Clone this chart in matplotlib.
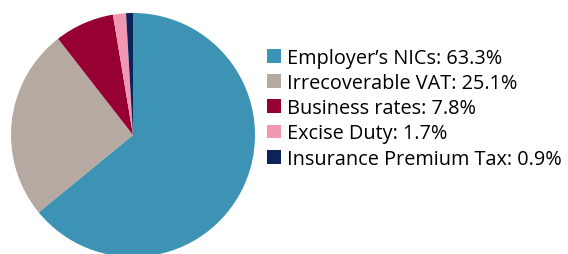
import matplotlib.pyplot as plt
from matplotlib.patches import Patch

# --- data ---
labels = ["Employer\u2019s NICs", "Irrecoverable VAT", "Business rates",
          "Excise Duty", "Insurance Premium Tax"]
shares = [63.3, 25.1, 7.8, 1.7, 0.9]
colors = ["#3d93b4", "#b6a9a2", "#970032", "#f098b2", "#0b2358"]

plt.rcParams['font.family'] = ['Open Sans', 'DejaVu Sans']

W, H = 568, 255
fig = plt.figure(figsize=(W / 100, H / 100), dpi=100)

# pie axes placed in pixel terms: centre (133,136), radius 122
cx, cy, r = 133, 136, 122
ax = fig.add_axes([(cx - r) / W, (H - cy - r) / H, 2 * r / W, 2 * r / H])
ax.pie(shares, colors=colors, startangle=90, counterclock=False,
       wedgeprops=dict(linewidth=0))
ax.set_xlim(-1, 1)
ax.set_ylim(-1, 1)
ax.axis('off')

handles = [Patch(facecolor=c, edgecolor='none') for c in colors]
texts = [f"{l}: {v}%" for l, v in zip(labels, shares)]
fig.legend(handles, texts, loc='upper left', bbox_to_anchor=(267 / W, 1 - 49 / H),
           frameon=False, fontsize=14.3, handlelength=0.7, handleheight=0.7,
           handletextpad=0.3, labelspacing=0.26, borderpad=0, borderaxespad=0)

fig.savefig('out.png', dpi=100)
